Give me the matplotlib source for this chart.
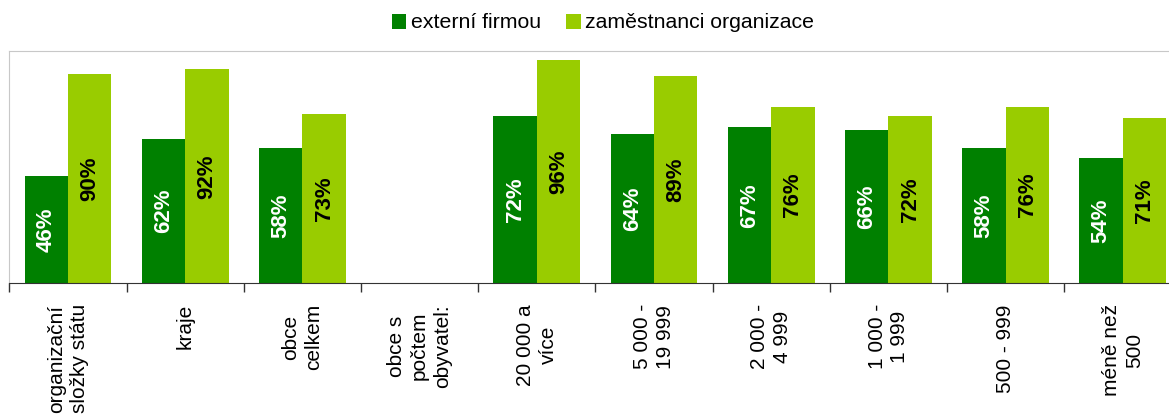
import numpy as np
import matplotlib
matplotlib.use("Agg")
import matplotlib.pyplot as plt

plt.rcParams["font.family"] = ["Liberation Sans", "DejaVu Sans"]

categories = [
    "organizační\nsložky státu",
    "kraje",
    "obce\ncelkem",
    "obce s\npočtem\nobyvatel:",
    "20 000 a\nvíce",
    "5 000 -\n19 999",
    "2 000 -\n4 999",
    "1 000 -\n1 999",
    "500 - 999",
    "méně než\n500",
]
externi = [46, 62, 58, np.nan, 72, 64, 67, 66, 58, 54]
zamestnanci = [90, 92, 73, np.nan, 96, 89, 76, 72, 76, 71]

dark = "#008000"
light = "#99CC00"

fig = plt.figure(figsize=(11.69, 4.17), dpi=100)
ax = fig.add_axes([0.008, 0.3206, 1.0026, 0.5578])

x = np.arange(len(categories))
w = 0.37
b1 = ax.bar(x - w / 2, externi, w, color=dark, label="externí firmou")
b2 = ax.bar(x + w / 2, zamestnanci, w, color=light, label="zaměstnanci organizace")

for xi, v in zip(x, externi):
    if not np.isnan(v):
        ax.text(xi - w / 2, v / 2, f"{v:.0f}%", rotation=90, ha="center", va="center",
                color="white", fontsize=16, fontweight="bold")
for xi, v in zip(x, zamestnanci):
    if not np.isnan(v):
        ax.text(xi + w / 2, v / 2, f"{v:.0f}%", rotation=90, ha="center", va="center",
                color="black", fontsize=16, fontweight="bold")

ax.set_xlim(-0.5, len(categories) - 0.5)
ax.set_ylim(0, 100)
ax.set_yticks([])

ax.set_xticks(np.arange(len(categories) + 1) - 0.5)
ax.set_xticklabels([])
ax.tick_params(axis="x", which="major", length=6.5, width=1, color="#333333", direction="out")
ax.set_xticks(x, minor=True)
ax.set_xticklabels(categories, minor=True, rotation=90, fontsize=15, linespacing=1.25,
                   ha="center", va="top", multialignment="center")
ax.tick_params(axis="x", which="minor", length=0, pad=15)

ax.spines["left"].set_color("#C8C8C8")
ax.spines["top"].set_color("#C8C8C8")
ax.spines["right"].set_visible(False)
ax.spines["bottom"].set_color("#333333")

fig.legend(handles=[b1, b2], loc="center", bbox_to_anchor=(603 / 1169, 1 - 23 / 417),
           ncol=2, frameon=False, fontsize=15.3, handlelength=0.7, handleheight=0.7,
           handletextpad=0.2, columnspacing=1.2, borderaxespad=0)

fig.savefig("out.png", dpi=100)
